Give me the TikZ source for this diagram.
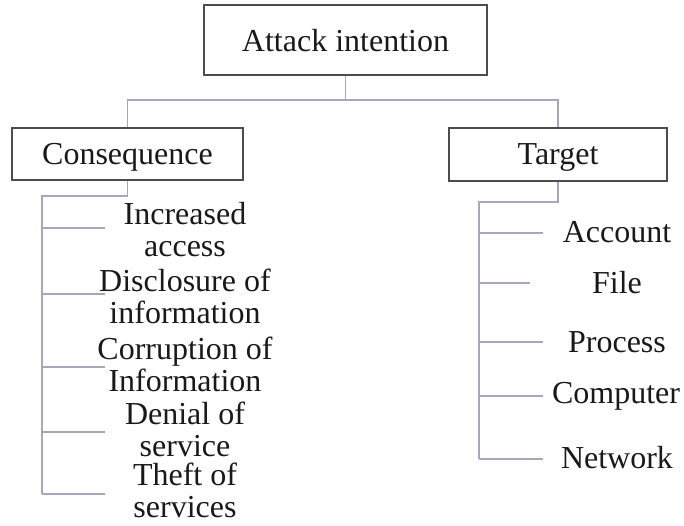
\documentclass[tikz,border=0pt]{standalone}
\usepackage{fontspec}
\setmainfont{Liberation Serif}
\begin{document}
\begin{tikzpicture}[x=1pt,y=-1pt,
  every node/.style={font=\fontsize{32}{32}\selectfont, text=black!90},
  box/.style={draw=black!70, line width=1.3pt, inner sep=0pt, text depth=0pt},
  leaf/.style={align=center, inner sep=0pt},
  conn/.style={draw=blue!25!black!35, line width=1.3pt}]
\useasboundingbox (0,0) rectangle (684,525);
% boxes
\node[box, minimum width=283pt, minimum height=70pt] (top) at (345.5,40) {Attack intention};
\node[box, minimum width=231pt, minimum height=52pt] (cons) at (127.5,154) {Consequence};
\node[box, minimum width=218pt, minimum height=53pt] (targ) at (558,154.5) {Target};
% top connectors
\coordinate (split) at (345.5,100);
\draw[conn] (top.south) -- (split);
\draw[conn] (split) -| (cons.north);
\draw[conn] (split) -| (targ.north);
% left leaves
\node[leaf] (l1) at (185,230) {Increased\\access};
\node[leaf] (l2) at (185,296) {Disclosure of\\information};
\node[leaf] (l3) at (185,364) {Corruption of\\Information};
\node[leaf] (l4) at (185,429) {Denial of\\service};
\node[leaf] (l5) at (185,490) {Theft of\\services};
\coordinate (lt) at (42,196);
\coordinate (lb) at (42,494);
\coordinate (e1) at (105,228);
\coordinate (e2) at (105,294);
\coordinate (e3) at (105,367);
\coordinate (e4) at (105,432);
\coordinate (e5) at (105,494);
\draw[conn] (cons.south) |- (lt) -- (lb);
\foreach \e in {e1,e2,e3,e4,e5} \draw[conn] (lt |- \e) -- (\e);
% right leaves
\node[leaf] (r1) at (617,232) {Account};
\node[leaf] (r2) at (617,283) {File};
\node[leaf] (r3) at (617,342) {Process};
\node[leaf] (r4) at (616,396) {Computer};
\node[leaf] (r5) at (617,458) {Network};
\coordinate (rt) at (479,202);
\coordinate (rb) at (479,459);
\coordinate (f1) at (543,233);
\coordinate (f2) at (530,283);
\coordinate (f3) at (543,342);
\coordinate (f4) at (543,396);
\coordinate (f5) at (543,459);
\draw[conn] (targ.south) |- (rt) -- (rb);
\foreach \f in {f1,f2,f3,f4,f5} \draw[conn] (rt |- \f) -- (\f);
\end{tikzpicture}
\end{document}
